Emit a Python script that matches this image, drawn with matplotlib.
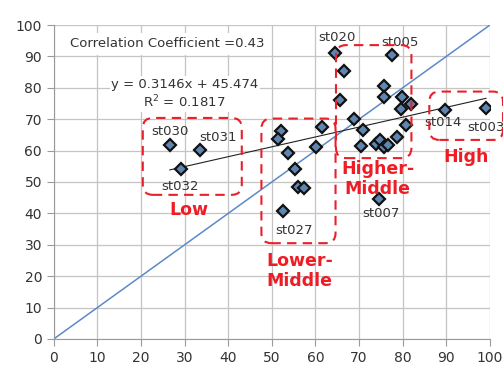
import matplotlib
matplotlib.use("Agg")
import matplotlib.pyplot as plt
from matplotlib.patches import FancyBboxPatch
import numpy as np

# scatter data (x = first score, y = second score)
xs = [26.6, 33.5, 29.1, 52.1, 51.3, 61.4, 53.8, 60.2, 55.2, 56.0, 57.4, 52.6,
      64.5, 66.5, 65.7, 68.8, 70.9, 70.4, 73.9, 74.9, 75.7, 76.7, 78.8, 77.6,
      75.7, 75.8, 79.9, 81.9, 79.6, 80.7, 74.6, 89.7, 99.1]
ys = [61.8, 60.2, 54.1, 66.2, 63.8, 67.4, 59.3, 61.0, 54.0, 48.5, 48.0, 40.9,
      91.0, 85.5, 76.2, 70.2, 66.5, 61.6, 62.0, 63.4, 61.0, 61.8, 64.2, 90.3,
      80.6, 77.2, 77.0, 74.7, 73.1, 68.1, 44.5, 72.9, 73.5]

# labelled students: name, text x, text y
point_labels = ["st030", "st031", "st032", "st027", "st020", "st005", "st007", "st014", "st003"]
label_x = [26.6, 37.6, 28.9, 55.0, 64.9, 79.4, 75.0, 89.2, 99.0]
label_y = [66.2, 64.3, 48.7, 34.7, 95.9, 94.3, 39.8, 68.8, 67.2]

# group boxes: name, x0, y0, x1, y1, text x, text y
groups = ["Low", "Lower-\nMiddle", "Higher-\nMiddle", "High"]
box_x0 = [20.4, 47.6, 64.7, 86.1]
box_y0 = [45.9, 30.5, 57.6, 63.4]
box_x1 = [43.1, 64.6, 82.0, 103.0]
box_y1 = [70.4, 70.2, 93.6, 78.8]
group_tx = [31.0, 56.4, 74.3, 94.5]
group_ty = [41.0, 21.6, 51.0, 58.0]

slope = 0.3146
intercept = 45.474
r2 = 0.1817
corr = 0.43

fig = plt.figure(figsize=(5.03, 3.68), dpi=100)
ax = fig.add_axes([0.107, 0.079, 0.867, 0.853])

ax.set_xlim(0, 100)
ax.set_ylim(0, 100)
ax.set_xticks(range(0, 101, 10))
ax.set_yticks(range(0, 101, 10))
ax.grid(True, color="#c4c4c4", linewidth=0.9)
ax.set_axisbelow(True)
for s in ax.spines.values():
    s.set_visible(False)
ax.spines["left"].set_visible(True)
ax.spines["bottom"].set_visible(True)
ax.spines["left"].set_color("#9a9a9a")
ax.spines["bottom"].set_color("#9a9a9a")
ax.tick_params(colors="#9a9a9a", labelcolor="#333333", labelsize=10, length=5)

# y = x reference
ax.plot([0, 100], [0, 100], color="#5b8ac6", linewidth=1.1, zorder=2)

# trend line over data range
tx = np.array([min(xs), max(xs)])
ax.plot(tx, slope * tx + intercept, color="#222222", linewidth=0.8, zorder=3)

ax.plot(xs, ys, linestyle="none", marker="D", markersize=6.3,
        markerfacecolor="#5e86b0", markeredgecolor="#111111",
        markeredgewidth=1.6, zorder=4)

for name, lx, ly in zip(point_labels, label_x, label_y):
    ax.text(lx, ly, name, ha="center", va="center", fontsize=9.5,
            color="#333333", zorder=5, clip_on=False)

for name, x0, y0, x1, y1, gx, gy in zip(groups, box_x0, box_y0, box_x1, box_y1, group_tx, group_ty):
    box = FancyBboxPatch((x0, y0), x1 - x0, y1 - y0,
                         boxstyle="round,pad=0,rounding_size=2.3",
                         mutation_aspect=1.39, fill=False,
                         edgecolor="#e8202a", linestyle=(0, (4.5, 3)),
                         linewidth=1.5, zorder=6, clip_on=False)
    ax.add_patch(box)
    ax.text(gx, gy, name, ha="center", va="center", fontsize=12.5,
            fontweight="bold", color="#ee1c25", linespacing=1.1, zorder=6)

ax.text(30.0, 78.0, "y = %.4fx + %.3f\nR$^2$ = %.4f" % (slope, intercept, r2),
        ha="center", va="center", fontsize=9.5, color="#333333", zorder=5,
        bbox=dict(facecolor="white", edgecolor="none", pad=1))
ax.text(3.7, 94.0, "Correlation Coefficient =%.2f" % corr, ha="left",
        va="center", fontsize=9.5, color="#333333", zorder=5,
        bbox=dict(facecolor="white", edgecolor="none", pad=3))

fig.savefig("out.png", dpi=100)
